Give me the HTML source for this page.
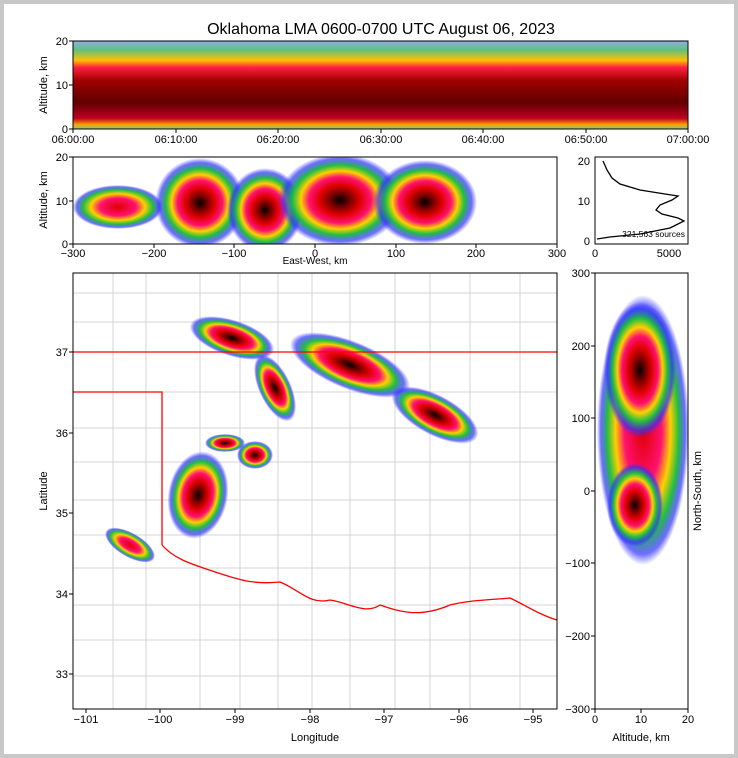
<!DOCTYPE html>
<html><head><meta charset="utf-8"><style>
body{margin:0;background:#fff}
svg{display:block;font-family:"Liberation Sans",sans-serif}
</style></head><body>
<svg width="738" height="758" viewBox="0 0 738 758" xmlns="http://www.w3.org/2000/svg">
<defs>
<radialGradient id="g">
<stop offset="0" stop-color="#000"/>
<stop offset="0.15" stop-color="#700000"/>
<stop offset="0.33" stop-color="#e00000"/>
<stop offset="0.5" stop-color="#ff1070"/>
<stop offset="0.63" stop-color="#ffd000"/>
<stop offset="0.76" stop-color="#20c040"/>
<stop offset="0.9" stop-color="#3030ff" stop-opacity="0.7"/>
<stop offset="1" stop-color="#3030ff" stop-opacity="0"/>
</radialGradient>
<radialGradient id="h">
<stop offset="0" stop-color="#e00000"/>
<stop offset="0.4" stop-color="#ff1070"/>
<stop offset="0.6" stop-color="#ffd000"/>
<stop offset="0.78" stop-color="#20c040"/>
<stop offset="0.92" stop-color="#3030ff" stop-opacity="0.7"/>
<stop offset="1" stop-color="#3030ff" stop-opacity="0"/>
</radialGradient>
<linearGradient id="top" x1="0" y1="0" x2="0" y2="1">
<stop offset="0" stop-color="#90b0e0"/>
<stop offset="0.1" stop-color="#60c080"/>
<stop offset="0.22" stop-color="#ffc000"/>
<stop offset="0.3" stop-color="#ff2040"/>
<stop offset="0.45" stop-color="#a00000"/>
<stop offset="0.7" stop-color="#600000"/>
<stop offset="0.88" stop-color="#c00020"/>
<stop offset="0.95" stop-color="#ffa000"/>
<stop offset="1" stop-color="#80d080"/>
</linearGradient>
<clipPath id="cm"><rect x="73" y="273" width="484" height="436"/></clipPath>
<clipPath id="cr"><rect x="595" y="273" width="93" height="436"/></clipPath>
<clipPath id="cmid"><rect x="73" y="157" width="484" height="87"/></clipPath>
</defs>
<rect x="0" y="0" width="738" height="758" fill="#c8c8c8"/>
<rect x="4" y="4" width="730" height="750" fill="#fff"/>
<text x="381" y="34" font-size="16" text-anchor="middle">Oklahoma LMA 0600-0700 UTC August 06, 2023</text>

<!-- top panel -->
<rect x="73" y="41" width="615" height="88" fill="url(#top)"/>
<rect x="73" y="41" width="615" height="88" fill="none" stroke="#000"/>
<g stroke="#000"><path d="M73,129v4M176,129v4M278,129v4M381,129v4M483,129v4M586,129v4M688,129v4M73,41h-4M73,85h-4M73,129h-4"/></g>
<g font-size="11" text-anchor="middle">
<text x="73" y="143">06:00:00</text><text x="176" y="143">06:10:00</text><text x="278" y="143">06:20:00</text><text x="381" y="143">06:30:00</text><text x="483" y="143">06:40:00</text><text x="586" y="143">06:50:00</text><text x="688" y="143">07:00:00</text>
</g>
<g font-size="11" text-anchor="end"><text x="68" y="45">20</text><text x="68" y="89">10</text><text x="68" y="133">0</text></g>
<text transform="translate(47,85) rotate(-90)" font-size="11" text-anchor="middle">Altitude, km</text>

<!-- middle panel -->
<g clip-path="url(#cmid)">
<ellipse cx="118" cy="207" rx="45" ry="22" fill="url(#h)"/>
<ellipse cx="200" cy="203" rx="45" ry="45" fill="url(#g)"/>
<ellipse cx="265" cy="210" rx="38" ry="42" fill="url(#g)"/>
<ellipse cx="340" cy="200" rx="62" ry="46" fill="url(#g)"/>
<ellipse cx="425" cy="202" rx="52" ry="42" fill="url(#g)"/>
</g>
<rect x="73" y="157" width="484" height="87" fill="none" stroke="#000"/>
<g stroke="#000"><path d="M73,244v4M154,244v4M234,244v4M315,244v4M396,244v4M476,244v4M557,244v4M73,157h-4M73,201h-4M73,244h-4"/></g>
<g font-size="11" text-anchor="middle">
<text x="73" y="257">−300</text><text x="154" y="257">−200</text><text x="234" y="257">−100</text><text x="315" y="257">0</text><text x="396" y="257">100</text><text x="476" y="257">200</text><text x="557" y="257">300</text>
</g>
<text x="315" y="264" font-size="10" text-anchor="middle">East-West, km</text>
<g font-size="11" text-anchor="end"><text x="68" y="161">20</text><text x="68" y="205">10</text><text x="68" y="248">0</text></g>
<text transform="translate(47,200) rotate(-90)" font-size="11" text-anchor="middle">Altitude, km</text>

<!-- small profile -->
<rect x="595" y="157" width="93" height="87" fill="none" stroke="#000"/>
<path d="M603,161 L607,170 612,178 620,184 640,190 665,194 678,196 672,200 660,205 656,210 662,214 678,218 684,221 670,228 640,234 610,237 597,239" fill="none" stroke="#000" stroke-width="1.3"/>
<text x="685" y="237" font-size="8.5" text-anchor="end">321,563 sources</text>
<g font-size="11" text-anchor="middle"><text x="595" y="257">0</text><text x="669" y="257">5000</text></g>
<g font-size="11" text-anchor="end"><text x="590" y="165">20</text><text x="590" y="205">10</text><text x="590" y="245">0</text></g>

<!-- map -->
<g clip-path="url(#cm)">
<g stroke="#d4d4d4" stroke-width="1" fill="none">
<path d="M73,293H557M73,322H557M73,392H557M73,428H557M73,462H557M73,500H557M73,535H557M73,568H557M73,605H557M73,640H557M73,676H557"/>
<path d="M113,273V709M146,273V709M200,273V709M240,273V709M278,273V709M312,273V709M350,273V709M395,273V709M430,273V709M470,273V709M520,273V709"/>
</g>
<ellipse cx="232" cy="338" rx="44" ry="18" transform="rotate(18 232 338)" fill="url(#g)"/>
<ellipse cx="275" cy="388" rx="16" ry="36" transform="rotate(-25 275 388)" fill="url(#g)"/>
<ellipse cx="350" cy="365" rx="64" ry="24" transform="rotate(22 350 365)" fill="url(#g)"/>
<ellipse cx="435" cy="415" rx="48" ry="20" transform="rotate(28 435 415)" fill="url(#g)"/>
<ellipse cx="198" cy="495" rx="30" ry="44" transform="rotate(10 198 495)" fill="url(#g)"/>
<ellipse cx="130" cy="545" rx="28" ry="12" transform="rotate(30 130 545)" fill="url(#h)"/>
<ellipse cx="225" cy="443" rx="20" ry="9" fill="url(#g)"/>
<ellipse cx="255" cy="455" rx="18" ry="14" fill="url(#g)"/>
<g stroke="#ff0000" stroke-width="1.3" fill="none">
<path d="M73,352H557"/>
<path d="M73,392H162V545"/>
<path d="M162,545 C175,560 195,565 215,572 C235,578 250,585 280,582 C300,590 310,605 330,600 C350,603 365,615 380,605 C400,612 420,618 450,605 C470,600 490,600 510,598 C525,605 540,615 557,620"/>
</g>
</g>
<rect x="73" y="273" width="484" height="436" fill="none" stroke="#000"/>
<g stroke="#000"><path d="M86,709v4M160,709v4M235,709v4M310,709v4M384,709v4M459,709v4M533,709v4M73,352h-4M73,433h-4M73,513h-4M73,594h-4M73,674h-4"/></g>
<g font-size="11" text-anchor="middle">
<text x="86" y="723">−101</text><text x="160" y="723">−100</text><text x="235" y="723">−99</text><text x="310" y="723">−98</text><text x="384" y="723">−97</text><text x="459" y="723">−96</text><text x="533" y="723">−95</text>
</g>
<text x="315" y="741" font-size="11" text-anchor="middle">Longitude</text>
<g font-size="11" text-anchor="end"><text x="68" y="356">37</text><text x="68" y="437">36</text><text x="68" y="517">35</text><text x="68" y="598">34</text><text x="68" y="678">33</text></g>
<text transform="translate(47,491) rotate(-90)" font-size="11" text-anchor="middle">Latitude</text>

<!-- right panel -->
<g clip-path="url(#cr)">
<ellipse cx="643" cy="430" rx="46" ry="135" fill="url(#h)"/>
<ellipse cx="640" cy="370" rx="36" ry="68" fill="url(#g)"/>
<ellipse cx="635" cy="505" rx="28" ry="42" fill="url(#g)"/>
</g>
<rect x="595" y="273" width="93" height="436" fill="none" stroke="#000"/>
<g stroke="#000"><path d="M595,709v4M641,709v4M688,709v4M595,273h-4M595,346h-4M595,418h-4M595,491h-4M595,563h-4M595,636h-4M595,709h-4"/></g>
<g font-size="11" text-anchor="end"><text x="590" y="277">300</text><text x="590" y="350">200</text><text x="590" y="422">100</text><text x="590" y="495">0</text><text x="590" y="567">−100</text><text x="590" y="640">−200</text><text x="590" y="713">−300</text></g>
<g font-size="11" text-anchor="middle"><text x="595" y="723">0</text><text x="641" y="723">10</text><text x="688" y="723">20</text></g>
<text x="641" y="741" font-size="11" text-anchor="middle">Altitude, km</text>
<text transform="translate(701,491) rotate(-90)" font-size="11" text-anchor="middle">North-South, km</text>
</svg>
</body></html>
